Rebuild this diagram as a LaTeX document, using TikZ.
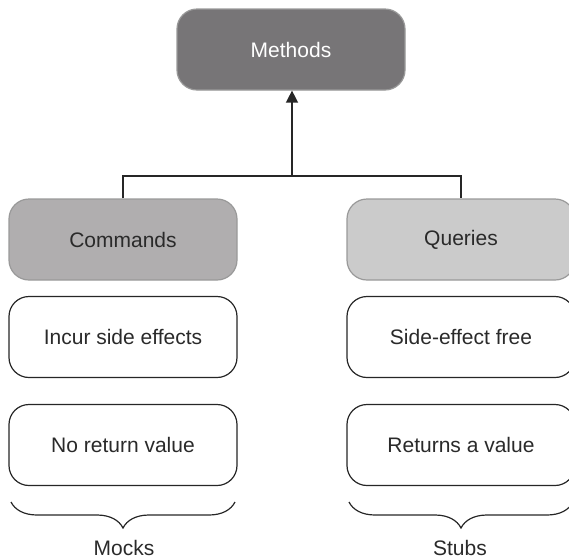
\documentclass[tikz,border=0pt]{standalone}
\usepackage{fontspec}
\setmainfont{Liberation Sans}
\usetikzlibrary{arrows.meta,decorations.pathreplacing}

\definecolor{methodgray}{HTML}{777577}
\definecolor{commandgray}{HTML}{B0AEAF}
\definecolor{querygray}{HTML}{CBCBCB}
\definecolor{textgray}{HTML}{2A2A2A}

\begin{document}
\begin{tikzpicture}
        [x=0.5pt, y=-0.5pt,
        box/.style={rectangle, rounded corners=10pt, minimum width=114pt, minimum height=40.5pt,
            inner sep=0pt, font=\fontsize{10.5}{12}\selectfont},
        graybox/.style={box, draw=gray!80, line width=0.6pt},
        plainbox/.style={box, draw=black!85, line width=0.6pt, fill=white, text=textgray},
        edge/.style={black!85, line width=0.7pt},
        bracket/.style={black!85, line width=0.6pt, decorate,
            decoration={brace, amplitude=13pt, aspect=0.5}},
        label/.style={font=\fontsize{10.5}{12}\selectfont, text=textgray}]

        \useasboundingbox (0,0) rectangle (569,559);

        \node[graybox, fill=methodgray, text=white] (m) at (291,49.5) {Methods};
        \node[graybox, fill=commandgray, text=textgray] (c) at (123,239.5) {Commands};
        \node[graybox, fill=querygray, text=textgray] (q) at (461,239.5) {Queries};

        \node[plainbox] (c1) at (123,337) {Incur side effects};
        \node[plainbox] (c2) at (123,445) {No return value};
        \node[plainbox] (q1) at (461,337) {Side-effect free};
        \node[plainbox] (q2) at (461,445) {Returns a value};

        % fork below the top box
        \coordinate (fork) at (292,176);
        \draw[edge] (c.north) |- (fork) -| (q.north);
        \draw[edge, -{Triangle[length=6pt, width=6pt]}] (fork) -- (m.south -| fork);

        % braces with their names
        \coordinate (cl) at (11,502);
        \coordinate (cr) at (235,502);
        \coordinate (ql) at (349,502);
        \coordinate (qr) at (573,502);
        \draw[bracket] (cr) -- (cl);
        \draw[bracket] (qr) -- (ql);

        \node[label] (mocks) at (124,548) {Mocks};
        \node[label] (stubs) at (460,548) {Stubs};
    \end{tikzpicture}
\end{document}
